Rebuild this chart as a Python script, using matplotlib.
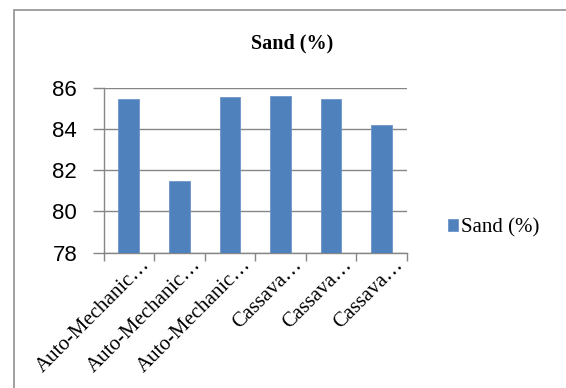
import matplotlib.pyplot as plt
from matplotlib.patches import Rectangle
from matplotlib.transforms import ScaledTranslation

categories = ["Auto-Mechanic…", "Auto-Mechanic…", "Auto-Mechanic…",
              "Cassava…", "Cassava…", "Cassava…"]
sand = [85.47, 81.45, 85.53, 85.58, 85.47, 84.18]
yticks = [78, 80, 82, 84, 86]

bar_color = "#4F81BD"
grid_color = "#868686"
serif = "Liberation Serif"

fig = plt.figure(figsize=(5.66, 3.88), dpi=100)
ax = fig.add_axes([0.183, 0.349, 0.536, 0.425])

x = range(len(categories))
ax.bar(x, sand, width=0.41, color=bar_color, edgecolor="#6E95C8",
       linewidth=0.6, zorder=3, label="Sand (%)")

ax.set_ylim(78, 86)
ax.set_xlim(-0.5, len(categories) - 0.5)
ax.set_yticks(yticks)
ax.set_yticklabels([str(v) for v in yticks], family="Liberation Sans", fontsize=16)
ax.yaxis.grid(True, color=grid_color, linewidth=1.0, zorder=0)

# category separators as tick marks
ax.set_xticks([i - 0.5 for i in range(len(categories) + 1)])
ax.set_xticklabels([])
ax.tick_params(axis="x", length=6, width=1.0, color=grid_color)
ax.tick_params(axis="y", length=8, width=1.0, color=grid_color, pad=11)

for side in ("top", "right"):
    ax.spines[side].set_visible(False)
for side in ("left", "bottom"):
    ax.spines[side].set_color(grid_color)
    ax.spines[side].set_linewidth(1.0)

# rotated category labels
offset = ScaledTranslation(12 / 100, -3 / 100, fig.dpi_scale_trans)
for i, name in enumerate(categories):
    ax.text(i, 0, name, transform=ax.get_xaxis_transform() + offset,
            rotation=45, ha="right", va="top", rotation_mode="anchor",
            family=serif, fontsize=15)

fig.text(0.516, 0.887, "Sand (%)", ha="center", va="center",
         family=serif, fontsize=14.5, fontweight="bold")

ax.legend(loc="center left", bbox_to_anchor=(0.758, 0.412),
          bbox_transform=fig.transFigure, frameon=False,
          prop={"family": serif, "size": 15}, handlelength=0.5,
          handleheight=0.5, handletextpad=0.15)

# outer chart frame
fig.patches.append(Rectangle((13.5 / 566, -0.1), 1.2, 1 - 9.5 / 388 + 0.1,
                             transform=fig.transFigure, fill=False,
                             edgecolor="#999999", linewidth=1.3))

fig.savefig("out.png", dpi=100)
